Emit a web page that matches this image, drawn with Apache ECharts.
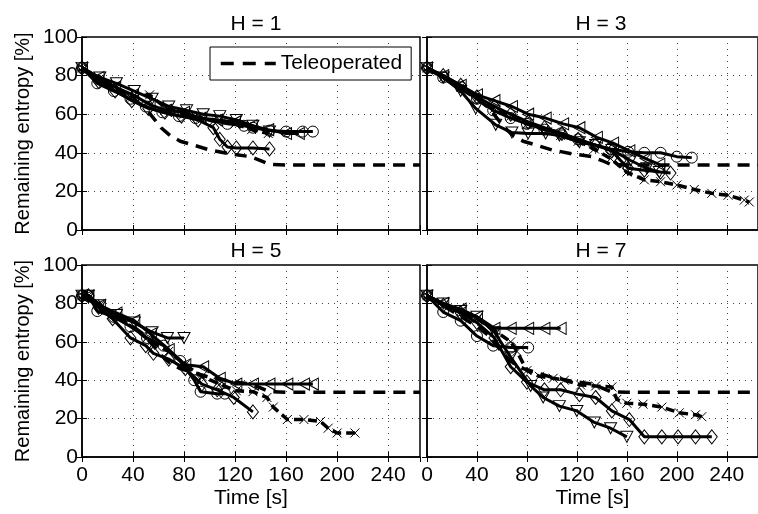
<!DOCTYPE html>
<html>
<head>
<meta charset="utf-8">
<script src="https://cdn.jsdelivr.net/npm/echarts@6/dist/echarts.min.js"></script>
<style>html,body{margin:0;padding:0;background:#fff}#c{width:758px;height:514px}</style>
</head>
<body>
<div id="c"></div>
<script>
const panelTitles = ['H = 1', 'H = 3', 'H = 5', 'H = 7'];
const xMin = 0, xMax = 265, xStep = 40;
const yMin = 0, yMax = 100, yStep = 20;
const legendName = 'Teleoperated';

const teleop = [[0,84],[10,80],[20,76],[30,72],[40,68],[50,63],[56,58],[62,53],[69,49],[77,46],[85,44.5],[100,41.5],[116,39.5],[132,38],[140,36],[147,34],[160,33.7],[265,33.7]];

// H = 1
const h1Circle = [[0,84],[12,76],[25,72],[38,68],[50,64],[63,61],[76,59],[89,58],[101,57],[114,55],[127,54],[134,53],[147,51.5],[160,51],[173,51],[181,51]];
const h1TriDown = [[0,84],[14,79],[27,76],[41,72],[55,68],[68,64],[82,62],[95,60],[108,59],[121,57],[134,54],[147,51]];
const h1TriLeft = [[0,84],[13,79],[26,74],[40,70],[53,65],[66,62],[80,61],[93,58],[106,57],[120,56],[133,54],[146,52],[160,50],[170,50]];
const h1Diamond = [[0,84],[13,77],[26,72],[39,67],[52,63],[65,61],[78,59],[91,57],[103,53],[108,47],[114,43],[121,42.5],[134,42.5],[147,42]];
const h1Cross = [[0,84],[13,78],[26,74],[40,69],[53,70],[66,63],[80,60],[93,58],[106,56],[120,55],[133,52],[146,50]];

// H = 3
const h3Circle = [[0,84],[13,79],[27,74],[40,68],[53,62],[67,58],[80,55],[94,52],[107,50],[121,47],[134,44],[147,42],[161,40.5],[174,40],[187,40],[200,38],[212,37.5]];
const h3TriLeft = [[0,84],[13,80],[27,75],[40,70],[54,67],[68,64],[81,60],[95,58],[109,55],[122,53],[136,48],[149,45],[162,41],[175,37],[186,34]];
const h3TriDown = [[0,84],[13,79],[27,72],[39,63],[55,54.5],[68,50.5],[81,50],[95,50],[106,49],[122,45.5],[135,44],[148,41.5],[163,36],[176,32],[186,30]];
const h3Diamond = [[0,84],[13,80],[27,75],[40,69],[54,64],[67,60],[81,56],[94,53],[108,50],[121,47],[135,44],[148,41],[155,36],[161,32],[174,31],[187,30],[195,29.5]];
const h3Cross = [[0,84],[13,79],[27,74],[40,68],[54,63],[67,59],[80,55],[94,52],[107,49],[121,46],[134,42],[147,37],[160,30],[174,26],[187,25],[200,23.3],[214,21],[228,19],[241,18],[254,15.5],[258,14.5]];

// H = 5
const h5TriLeft = [[0,84],[5,84],[14,79],[27,75],[41,71],[54,64],[68,56],[81,48],[95,47],[108,41],[121,38],[134,38],[147,38],[161,38],[174,38],[181,38]];
const h5Cross = [[0,84],[5,84],[14,79],[27,73],[41,67],[54,60],[68,55],[81,48],[94,42],[108,38],[121,34.5],[134,34],[145,31],[150,26],[161,19.5],[174,19.5],[187,18.5],[193,15],[200,12.5],[214,12.5]];
const h5Diamond = [[0,84],[5,84],[13,78],[24,72],[38,62],[50,58],[56,54],[68,51],[81,46],[94,38],[106,35],[119,31],[134,23.5]];
const h5Circle = [[0,84],[5,84],[12,76],[25,73],[38,68],[51,62],[64,58],[77,50],[88,40],[93,34],[106,33],[112,33]];
const h5TriDown = [[0,84],[5,84],[14,79],[27,74],[41,70],[55,65],[67,62],[80,62]];

// H = 7
const h7TriLeft = [[0,84],[13,80],[27,77],[40,73],[54,67],[67,67],[81,67],[94,67],[107,67]];
const h7Circle = [[0,84],[13,75.5],[27,71],[40,63],[53,58],[67,57],[81,57]];
const h7Diamond = [[0,84],[13,79],[27,75],[40,70],[54,62],[67,47],[80,39],[94,35],[107,35],[122,32.5],[135,31],[148,24],[162,19.5],[174,10.5],[188,10.5],[201,10.5],[215,10.5],[228,10.5]];
const h7TriDown = [[0,84],[13,80],[27,76],[40,73],[54,65],[67,52],[83,37],[93,31],[106,26.5],[120,24],[134,18],[147,15],[160,10.5]];
const h7Cross = [[0,84],[13,79],[27,76],[40,72],[54,66],[67,60],[72,55],[80,45],[90,42],[101,41],[110,40],[123,37.5],[135,37],[148,36.5],[152,30],[160,28],[173,27.5],[188,26],[202,23],[215,22],[220,21]];

const panels = [
  {circle: h1Circle, triDown: h1TriDown, triLeft: h1TriLeft, diamond: h1Diamond, cross: h1Cross},
  {circle: h3Circle, triDown: h3TriDown, triLeft: h3TriLeft, diamond: h3Diamond, cross: h3Cross},
  {circle: h5Circle, triDown: h5TriDown, triLeft: h5TriLeft, diamond: h5Diamond, cross: h5Cross},
  {circle: h7Circle, triDown: h7TriDown, triLeft: h7TriLeft, diamond: h7Diamond, cross: h7Cross}
];

const FONT = 'Liberation Sans, Arial, sans-serif';
const gridPos = [
  {left: 82, top: 37, width: 338, height: 193},
  {left: 427, top: 37, width: 338, height: 193},
  {left: 82, top: 265, width: 338, height: 192},
  {left: 427, top: 265, width: 338, height: 192}
];
const titlePos = [
  {left: 251, top: 9}, {left: 596, top: 9}, {left: 251, top: 236}, {left: 596, top: 236}
];

const grids = gridPos.map(g => Object.assign({show: true, borderColor: '#000', borderWidth: 1.5, backgroundColor: '#fff'}, g));
const xAxes = [], yAxes = [];
const dotted = {show: true, lineStyle: {color: '#444', type: [1, 5], width: 1}};
for (let i = 0; i < 4; i++) {
  const bottomRow = i >= 2, leftCol = i % 2 === 0;
  xAxes.push({
    type: 'value', gridIndex: i, min: xMin, max: xMax, interval: xStep, position: 'bottom',
    axisLine: {show: true, lineStyle: {color: '#000', width: 1.5}},
    axisTick: {show: true, inside: true, length: 5, lineStyle: {color: '#000'}},
    axisLabel: {show: bottomRow, showMaxLabel: false, color: '#000', fontSize: 21, fontFamily: FONT, margin: 8},
    splitLine: dotted,
    name: bottomRow ? 'Time [s]' : '', nameLocation: 'middle', nameGap: 31,
    nameTextStyle: {color: '#000', fontSize: 21, fontFamily: FONT}
  });
  yAxes.push({
    type: 'value', gridIndex: i, min: yMin, max: yMax, interval: yStep, position: 'left',
    axisLine: {show: true, lineStyle: {color: '#000', width: 1.5}},
    axisTick: {show: true, inside: true, length: 5, lineStyle: {color: '#000'}},
    axisLabel: {show: leftCol, color: '#000', fontSize: 21, fontFamily: FONT, margin: 4},
    splitLine: dotted,
    name: leftCol ? 'Remaining entropy [%]' : '', nameLocation: 'middle', nameGap: 49,
    nameTextStyle: {color: '#000', fontSize: 20, fontFamily: FONT}
  });
}
// mirror axes for ticks on top and right
for (let i = 0; i < 4; i++) {
  xAxes.push({type: 'value', gridIndex: i, min: xMin, max: xMax, interval: xStep, position: 'top',
    axisLine: {show: false}, axisTick: {show: true, inside: true, length: 5, lineStyle: {color: '#000'}},
    axisLabel: {show: false}, splitLine: {show: false}});
  yAxes.push({type: 'value', gridIndex: i, min: yMin, max: yMax, interval: yStep, position: 'right',
    axisLine: {show: false}, axisTick: {show: true, inside: true, length: 5, lineStyle: {color: '#000'}},
    axisLabel: {show: false}, splitLine: {show: false}});
}

const crossPath = 'path://M0,0L10,10M10,0L0,10';
const markerDefs = {
  circle: {symbol: 'circle', size: 11, rotate: 0, dashed: false},
  triDown: {symbol: 'triangle', size: [12, 11], rotate: 180, dashed: false},
  triLeft: {symbol: 'triangle', size: [12, 11], rotate: 90, dashed: false},
  diamond: {symbol: 'diamond', size: [11, 14], rotate: 0, dashed: false},
  cross: {symbol: crossPath, size: 9, rotate: 0, dashed: true}
};

const series = [];
for (let i = 0; i < 4; i++) {
  series.push({
    name: i === 0 ? legendName : 'tele' + i, type: 'line', xAxisIndex: i, yAxisIndex: i,
    data: teleop, symbol: 'none', z: 2, silent: true, animation: false,
    lineStyle: {color: '#000', width: 3.5, type: [12, 8]}, itemStyle: {color: '#000'}
  });
  for (const key of ['circle', 'triDown', 'triLeft', 'diamond', 'cross']) {
    const m = markerDefs[key];
    series.push({
      name: 'p' + i + key, type: 'line', xAxisIndex: i, yAxisIndex: i,
      data: panels[i][key], symbol: m.symbol, symbolSize: m.size, symbolRotate: m.rotate,
      showAllSymbol: true, z: 3, silent: true, animation: false,
      lineStyle: {color: '#000', width: m.dashed ? 3.5 : 3, type: m.dashed ? [9, 5] : 'solid'},
      itemStyle: {color: 'rgba(255,255,255,0)', borderColor: '#000', borderWidth: 1}
    });
  }
}

const chart = echarts.init(document.getElementById('c'), null, {renderer: 'canvas'});
chart.setOption({
  animation: false,
  backgroundColor: '#fff',
  title: panelTitles.map((t, i) => ({text: t, left: titlePos[i].left, top: titlePos[i].top, textAlign: 'center',
    textStyle: {color: '#000', fontSize: 21, fontWeight: 'normal', fontFamily: FONT}})),
  legend: {
    data: [legendName], left: 210, top: 47, orient: 'horizontal',
    itemWidth: 55, itemHeight: 14, itemGap: 5, padding: [6, 9],
    itemStyle: {opacity: 0},
    lineStyle: {color: '#000', width: 3.5, type: [13, 9]},
    borderColor: '#000', borderWidth: 1, backgroundColor: '#fff',
    textStyle: {color: '#000', fontSize: 21, fontFamily: FONT}
  },
  grid: grids, xAxis: xAxes, yAxis: yAxes, series: series
});
</script>
</body>
</html>
